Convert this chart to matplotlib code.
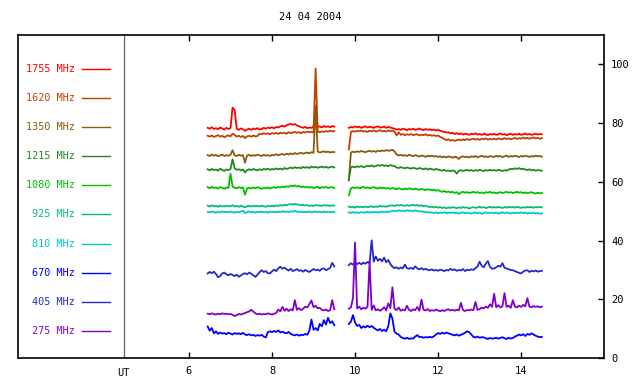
import numpy as np
import matplotlib
matplotlib.use("Agg")
import matplotlib.pyplot as plt

plt.rcParams['font.family'] = ['DejaVu Sans Mono']

title = "24 04 2004"
freqs = ['1755 MHz', '1620 MHz', '1350 MHz', '1215 MHz', '1080 MHz',
         '925 MHz', '810 MHz', '670 MHz', '405 MHz', '275 MHz']
colors = ['#ff0000', '#c44000', '#8c5a0a', '#228822', '#00c000',
          '#00c070', '#00c8c8', '#0000ff', '#2828c8', '#8000c8']

# sample times (UT hours), two observing runs
t1 = np.round(np.arange(6.45, 9.501, 0.05), 2)
t2 = np.round(np.arange(9.85, 14.501, 0.05), 2)

# flux values, first run
f1755_a = [78.4, 78.1, 78.6, 78.0, 78.3, 77.9, 78.5, 78.2, 77.8, 78.4,
           78.0, 78.3, 85.3, 84.4, 78.1, 77.7, 78.2, 77.9, 77.4, 77.8,
           78.1, 77.7, 78.2, 77.9, 78.3, 77.8, 78.0, 78.4, 78.1, 78.5,
           78.3, 78.6, 78.2, 78.7, 78.5, 78.9, 79.1, 78.8, 79.3, 79.5,
           79.8, 79.4, 79.7, 79.2, 79.0, 78.6, 78.4, 78.7, 78.3, 78.5,
           78.4, 78.8, 84.0, 78.6, 78.9, 78.5, 79.0, 78.7, 78.9, 78.6,
           79.0, 78.8]
f1620_a = [75.7, 75.4, 75.8, 75.3, 75.6, 75.9, 75.4, 75.7, 75.2, 75.6,
           75.8, 75.5, 76.4, 76.0, 75.4, 75.7, 75.3, 75.6, 74.9, 75.5,
           75.7, 75.4, 75.8, 75.5, 75.6, 76.4, 76.2, 76.6, 76.3, 76.5,
           76.2, 76.6, 76.4, 76.7, 76.3, 76.8, 76.5, 76.7, 76.4, 76.9,
           76.6, 76.8, 77.0, 76.7, 76.9, 76.6, 77.0, 76.8, 77.1, 76.9,
           77.0, 76.8, 98.6, 77.1, 76.9, 77.2, 77.0, 77.3, 77.1, 77.4,
           77.2, 77.3]
f1350_a = [69.1, 68.8, 69.3, 68.9, 69.2, 68.7, 69.0, 69.3, 68.8, 69.1,
           68.9, 69.2, 70.8, 69.0, 68.8, 69.2, 68.9, 69.1, 66.5, 69.0,
           69.2, 68.8, 69.1, 68.9, 69.3, 69.0, 68.8, 69.2, 68.9, 69.1,
           68.8, 69.2, 69.0, 69.4, 69.1, 69.3, 69.5, 69.2, 69.6, 69.3,
           69.7, 69.4, 69.8, 69.5, 69.7, 69.9, 69.6, 69.8, 70.0, 69.7,
           70.1, 69.9, 86.0, 70.3, 70.0, 70.2, 70.4, 70.1, 70.3, 70.0,
           70.2, 70.1]
f1215_a = [64.3, 63.9, 64.4, 64.0, 64.2, 63.8, 64.5, 64.1, 63.7, 64.2,
           64.0, 64.4, 67.7, 64.6, 64.1, 64.3, 63.9, 64.2, 63.2, 64.0,
           64.3, 64.0, 64.4, 64.1, 63.9, 64.3, 64.0, 64.4, 64.2, 64.5,
           64.1, 64.4, 64.2, 64.6, 64.3, 64.5, 64.2, 64.7, 64.4, 64.6,
           64.9, 64.6, 65.0, 64.7, 64.9, 64.6, 65.1, 64.8, 65.0, 64.7,
           65.2, 64.9, 65.1, 64.8, 65.0, 65.2, 64.9, 65.1, 64.8, 65.0,
           65.2, 64.9]
f1080_a = [58.2, 57.8, 58.3, 57.9, 58.1, 57.7, 58.2, 58.0, 57.6, 58.1,
           57.9, 62.8, 58.4, 58.0, 57.8, 58.2, 57.9, 58.1, 55.6, 57.8,
           58.0, 57.7, 58.1, 57.8, 58.2, 57.9, 57.6, 58.0, 57.8, 58.1,
           57.7, 58.0, 58.2, 57.9, 58.3, 58.1, 58.4, 58.2, 58.5, 58.3,
           58.7, 58.5, 58.8, 58.4, 58.6, 58.2, 58.4, 58.1, 58.3, 58.0,
           58.2, 57.9, 58.1, 58.3, 57.8, 58.2, 58.0, 58.3, 57.9, 58.1,
           58.2, 57.9]
f925_a = [51.9, 51.6, 52.0, 51.7, 51.8, 51.5, 51.9, 51.7, 51.6, 51.9,
          51.7, 51.8, 52.0, 51.6, 51.8, 51.5, 51.9, 51.6, 51.3, 51.7,
          51.8, 51.6, 51.9, 51.7, 51.8, 51.6, 51.9, 51.7, 51.5, 51.8,
          51.7, 51.9, 51.6, 52.0, 51.8, 52.1, 51.9, 52.2, 52.0, 52.3,
          52.4, 52.2, 52.5, 52.3, 52.2, 52.0, 52.2, 51.9, 52.1, 51.8,
          52.0, 51.8, 52.1, 51.9, 52.0, 51.8, 52.1, 51.9, 52.0, 51.8,
          52.0, 51.9]
f810_a = [49.8, 49.6, 49.9, 49.7, 49.5, 49.8, 49.6, 49.9, 49.7, 49.8,
          49.6, 49.9, 49.7, 49.5, 49.8, 49.6, 49.9, 50.2, 49.4, 49.7,
          49.9, 49.6, 49.8, 49.5, 49.8, 49.7, 49.9, 49.6, 49.8, 49.5,
          49.9, 49.7, 49.8, 49.6, 49.9, 49.7, 50.0, 49.8, 49.9, 49.7,
          50.0, 49.8, 50.1, 49.9, 49.7, 49.9, 49.6, 49.8, 49.7, 49.9,
          49.6, 49.8, 49.9, 49.7, 49.8, 49.6, 49.9, 49.7, 49.8, 49.6,
          49.8, 49.7]
f670_a = [10.7, 9.3, 10.2, 8.4, 9.1, 8.2, 8.7, 8.3, 8.5, 8.1,
          8.6, 8.3, 8.0, 8.5, 8.2, 8.4, 8.1, 8.6, 8.0, 7.8,
          8.1, 7.7, 7.9, 7.5, 7.8, 7.6, 7.9, 7.3, 7.0, 8.8,
          9.1, 8.8, 9.2, 8.9, 9.4, 8.7, 9.0, 8.6, 8.4, 8.9,
          8.2, 7.9, 7.7, 8.0, 7.6, 7.9, 7.8, 8.2, 7.9, 9.3,
          13.1, 9.6, 10.2, 9.4, 11.6, 10.8, 12.9, 11.4, 13.7, 11.9,
          12.5, 11.2]
f405_a = [28.8, 29.3, 28.9, 29.4, 28.6, 27.5, 27.9, 28.8, 29.1, 28.5,
          28.2, 28.6, 28.3, 27.9, 28.4, 27.7, 28.1, 28.6, 28.9, 28.5,
          29.1, 28.7, 28.2, 27.6, 28.4, 29.2, 29.9, 29.3, 29.6, 28.9,
          28.8, 29.5, 30.1, 29.6, 30.5, 31.1, 30.4, 30.8, 30.2, 29.8,
          30.4, 29.6, 29.9, 30.3, 29.7, 29.9, 29.4, 30.0, 29.6, 29.3,
          29.8, 30.3, 29.9, 30.1, 29.7, 30.4, 30.5, 29.9, 30.3, 30.7,
          32.4, 31.2]
f275_a = [15.1, 14.9, 15.2, 15.0, 14.8, 15.1, 14.9, 15.2, 15.0, 15.1,
          14.9, 15.0, 14.7, 14.3, 14.6, 15.0, 14.8, 15.1, 15.3, 15.6,
          15.9, 16.4, 15.8, 15.2, 14.9, 15.1, 14.8, 15.0, 14.9, 15.2,
          15.0, 14.8, 15.1, 15.3, 16.5, 15.9, 17.4, 16.1, 16.8, 16.0,
          16.6, 16.2, 19.7, 16.4, 17.0, 16.3, 16.8, 17.5, 17.2, 18.4,
          19.6, 17.3, 17.8, 16.9, 17.1, 16.4, 16.2, 16.5, 16.0, 16.3,
          19.7, 16.6]

# second run
f1755_b = [78.4, 78.7, 78.5, 78.9, 78.6, 78.8, 78.4, 78.7, 78.9, 78.5,
           78.8, 78.6, 78.4, 78.7, 78.9, 78.5, 78.6, 78.8, 78.4, 78.7,
           78.5, 78.3, 78.1, 77.8, 78.0, 77.7, 78.1, 77.9, 77.6, 78.0,
           77.8, 78.1, 77.7, 77.9, 78.2, 77.8, 77.6, 78.0, 77.7, 77.9,
           77.6, 77.8, 77.5, 77.7, 77.4, 77.2, 77.0, 76.8, 76.9, 76.5,
           76.7, 76.3, 76.6, 76.2, 76.5, 76.1, 76.4, 76.3, 76.0, 76.4,
           76.2, 76.5, 76.1, 76.3, 76.0, 76.4, 76.2, 75.9, 76.3, 76.1,
           76.4, 76.0, 76.2, 76.5, 76.1, 76.3, 75.9, 76.2, 76.4, 76.0,
           76.3, 76.1, 76.4, 76.0, 76.2, 76.5, 76.1, 76.3, 76.0, 76.2,
           76.4, 76.1, 76.3, 76.2]
f1620_b = [71.0, 77.0, 77.3, 77.1, 77.4, 77.2, 77.5, 77.1, 77.3, 77.0,
           77.4, 77.2, 77.5, 77.1, 77.3, 77.6, 77.2, 77.4, 77.1, 77.5,
           77.3, 77.4, 77.2, 75.8, 76.9, 76.0, 76.3, 75.9, 76.2, 76.0,
           76.3, 75.9, 76.1, 76.2, 75.8, 76.1, 75.9, 76.2, 75.8, 76.0,
           75.7, 75.9, 75.6, 75.8, 75.3, 75.0, 74.6, 74.2, 74.5, 74.0,
           74.3, 73.9, 74.2, 74.4, 74.1, 74.5, 74.2, 74.6, 74.3, 74.5,
           74.7, 74.4, 74.6, 74.3, 74.7, 74.5, 74.8, 74.4, 74.6, 74.5,
           74.7, 74.4, 74.8, 74.6, 74.5, 74.9, 74.6, 74.8, 74.5, 74.7,
           75.0, 74.6, 74.9, 74.7, 75.1, 74.8, 75.0, 74.7, 74.9, 75.1,
           74.8, 75.0, 74.7, 74.9]
f1350_b = [60.5, 70.0, 70.3, 70.1, 70.4, 70.2, 70.5, 70.3, 70.1, 70.4,
           70.6, 70.3, 70.5, 70.2, 70.6, 70.4, 70.7, 70.5, 70.8, 70.6,
           70.7, 70.9, 70.4, 69.3, 69.0, 69.2, 68.9, 69.1, 68.8, 69.2,
           69.0, 68.7, 69.1, 68.9, 68.6, 69.0, 68.8, 68.5, 68.9, 68.7,
           68.9, 68.6, 68.8, 68.5, 68.7, 68.4, 68.6, 68.3, 68.7, 68.5,
           68.2, 68.6, 68.4, 67.8, 68.5, 68.7, 68.4, 68.6, 68.3, 68.7,
           68.5, 68.8, 68.4, 68.6, 68.9, 68.5, 68.7, 68.4, 68.8, 68.6,
           68.5, 68.9, 68.6, 68.8, 68.4, 68.7, 68.9, 68.5, 68.8, 68.6,
           68.9, 68.7, 68.5, 68.8, 68.6, 68.9, 68.7, 68.5, 68.8, 68.6,
           68.9, 68.7, 68.8, 68.6]
f1215_b = [60.8, 65.0, 65.2, 64.9, 65.3, 65.1, 65.4, 65.0, 65.2, 65.5,
           65.3, 65.6, 65.2, 65.4, 65.7, 65.5, 65.8, 65.4, 65.6, 65.3,
           65.7, 65.5, 65.4, 64.9, 64.7, 65.0, 64.8, 64.6, 64.9, 64.7,
           64.5, 64.8, 64.6, 64.4, 64.7, 64.5, 64.3, 64.6, 64.2, 64.5,
           64.3, 64.1, 64.4, 64.2, 64.0, 63.8, 64.1, 63.7, 63.9, 63.6,
           63.9, 63.7, 62.8, 63.8, 64.0, 63.7, 63.9, 64.1, 63.8, 64.0,
           63.7, 64.0, 63.8, 64.1, 63.9, 63.7, 64.0, 63.8, 64.1, 63.9,
           64.0, 63.8, 64.1, 63.9, 63.7, 64.0, 63.8, 64.2, 64.4, 64.3,
           64.6, 64.4, 64.7, 64.3, 64.5, 64.2, 64.0, 64.3, 63.9, 64.1,
           63.8, 64.0, 63.9, 63.8]
f1080_b = [55.4, 57.8, 58.1, 57.9, 58.2, 57.8, 58.0, 58.3, 57.9, 58.1,
           57.8, 58.0, 58.2, 57.9, 57.7, 58.1, 57.8, 58.0, 57.7, 57.9,
           57.6, 57.9, 57.7, 57.5, 57.8, 57.6, 57.4, 57.7, 57.5, 57.8,
           57.6, 57.4, 57.7, 57.5, 57.3, 57.6, 57.4, 57.2, 57.5, 57.3,
           57.1, 57.4, 57.0, 57.2, 56.8, 56.6, 56.9, 56.5, 56.7, 56.4,
           56.6, 56.2, 56.5, 55.8, 56.4, 56.6, 56.3, 56.5, 56.2, 56.4,
           56.6, 56.3, 56.5, 56.2, 56.4, 56.1, 56.5, 56.3, 56.6, 56.2,
           56.4, 56.1, 56.3, 56.5, 56.2, 56.4, 56.6, 56.3, 56.5, 56.2,
           56.4, 56.6, 56.3, 56.5, 56.2, 56.4, 56.1, 56.3, 56.5, 56.2,
           56.0, 56.3, 56.1, 56.2]
f925_b = [51.6, 51.3, 51.5, 51.2, 51.6, 51.4, 51.5, 51.3, 51.6, 51.4,
          51.5, 51.7, 51.4, 51.6, 51.5, 51.8, 51.6, 51.7, 51.5, 51.8,
          51.9, 52.0, 51.8, 52.1, 51.9, 52.1, 52.0, 51.8, 52.1, 51.9,
          52.0, 52.2, 51.9, 52.1, 51.8, 52.0, 51.7, 51.9, 51.6, 51.4,
          51.5, 51.3, 51.5, 51.2, 51.4, 51.1, 51.3, 51.0, 51.3, 51.1,
          51.4, 51.2, 51.0, 51.3, 51.1, 51.4, 51.2, 51.3, 50.9, 51.2,
          51.4, 51.1, 51.3, 51.5, 51.2, 51.4, 51.1, 51.3, 51.5, 51.2,
          51.4, 51.2, 51.5, 51.3, 51.1, 51.4, 51.2, 51.5, 51.3, 51.4,
          51.2, 51.5, 51.3, 51.1, 51.4, 51.2, 51.5, 51.3, 51.4, 51.2,
          51.4, 51.3, 51.5, 51.3]
f810_b = [49.6, 49.4, 49.7, 49.5, 49.6, 49.4, 49.7, 49.5, 49.6, 49.8,
          49.5, 49.7, 49.6, 49.8, 49.5, 49.7, 49.9, 49.6, 49.8, 49.7,
          49.9, 50.1, 50.2, 50.0, 50.3, 50.1, 50.2, 50.0, 50.3, 50.1,
          50.2, 50.0, 50.3, 50.1, 49.9, 50.0, 49.8, 49.6, 49.7, 49.5,
          49.6, 49.4, 49.6, 49.3, 49.5, 49.4, 49.6, 49.3, 49.5, 49.4,
          49.6, 49.3, 49.5, 49.2, 49.4, 49.6, 49.3, 49.5, 49.4, 49.2,
          49.4, 49.6, 49.3, 49.5, 49.1, 49.4, 49.6, 49.3, 49.5, 49.4,
          49.3, 49.5, 49.2, 49.4, 49.6, 49.3, 49.5, 49.4, 49.2, 49.5,
          49.3, 49.5, 49.4, 49.6, 49.3, 49.5, 49.2, 49.4, 49.3, 49.5,
          49.2, 49.4, 49.1, 49.3]
f670_b = [11.6, 12.4, 14.6, 12.1, 10.9, 11.3, 10.2, 10.8, 10.4, 11.0,
          10.5, 10.9, 10.3, 9.8, 9.4, 9.9, 9.2, 9.6, 9.1, 10.8,
          15.2, 13.4, 9.0, 8.3, 8.0, 7.2, 6.8, 6.6, 6.9, 6.5,
          6.7, 6.6, 7.3, 7.8, 7.1, 7.2, 6.9, 7.1, 7.0, 7.2,
          7.0, 7.4, 8.0, 8.5, 8.2, 8.6, 8.3, 8.7, 8.4, 8.2,
          7.9, 7.7, 8.0, 7.6, 7.9, 8.2, 8.6, 9.1, 8.8, 8.0,
          7.2, 7.0, 7.3, 6.9, 7.1, 7.0, 6.7, 6.5, 6.8, 6.6,
          6.7, 6.9, 6.6, 6.8, 7.1, 6.7, 6.5, 6.9, 6.6, 6.8,
          7.3, 7.6, 8.0, 7.7, 8.1, 7.5, 8.2, 7.9, 8.4, 8.0,
          7.6, 7.3, 7.1, 7.2]
f405_b = [31.6, 32.3, 31.8, 32.6, 32.0, 32.4, 31.9, 32.5, 32.1, 32.7,
          32.3, 40.1, 32.8, 34.6, 33.1, 33.8, 32.9, 34.2, 32.6, 33.4,
          32.0, 31.1, 30.6, 30.9, 30.4, 30.8, 30.5, 31.8, 30.6, 30.4,
          30.7, 30.3, 31.2, 30.5, 30.2, 30.6, 30.1, 30.4, 30.0, 29.9,
          30.2, 29.8, 30.0, 29.7, 30.1, 29.9, 29.6, 30.0, 29.8, 30.4,
          29.9, 30.2, 29.7, 30.0, 29.8, 30.3, 29.6, 30.1, 29.9, 30.2,
          30.0, 30.6, 31.2, 32.8, 31.4, 30.9, 32.2, 33.0, 31.0, 30.4,
          30.5, 30.9, 31.4, 31.1, 32.3, 30.7, 30.5, 30.2, 30.0, 29.9,
          29.6, 29.3, 29.0, 28.8, 29.4, 29.8, 29.9, 29.3, 29.7, 29.5,
          29.8, 29.4, 29.6, 29.7]
f275_b = [16.8, 17.2, 20.4, 39.3, 16.9, 17.5, 16.6, 17.1, 16.8, 17.4,
          33.0, 16.4, 17.9, 16.2, 16.6, 16.1, 16.5, 17.3, 16.2, 18.6,
          17.0, 24.1, 16.8, 16.3, 17.2, 16.1, 16.5, 16.2, 17.8, 16.4,
          16.0, 16.6, 16.3, 17.4, 16.1, 19.9, 16.4, 16.2, 16.7, 16.0,
          16.3, 16.1, 16.5, 16.2, 15.9, 16.3, 16.0, 16.4, 16.6, 16.2,
          16.4, 16.1, 16.5, 16.2, 18.8, 16.3, 16.0, 16.4, 16.2, 16.5,
          16.3, 19.1, 16.4, 16.6, 17.2, 16.9, 17.5, 17.1, 18.3, 17.4,
          21.9, 17.3, 18.0, 17.2, 17.6, 22.1, 17.4, 17.8, 17.1, 19.7,
          17.5, 17.2, 17.8, 17.4, 18.1, 17.6, 20.4, 17.5, 17.3, 17.7,
          17.4, 17.6, 17.3, 17.5]

run_a = [f1755_a, f1620_a, f1350_a, f1215_a, f1080_a,
         f925_a, f810_a, f670_a, f405_a, f275_a]
run_b = [f1755_b, f1620_b, f1350_b, f1215_b, f1080_b,
         f925_b, f810_b, f670_b, f405_b, f275_b]

fig = plt.figure(figsize=(6.4, 3.84), dpi=100)
ax = fig.add_axes([0.028, 0.0677, 0.916, 0.841])

for ya, yb, c in zip(run_a, run_b, colors):
    ax.plot(t1, ya, color=c, lw=1.3)
    ax.plot(t2, yb, color=c, lw=1.3)

ax.set_xlim(1.88, 16.0)
ax.set_ylim(0, 110)

# separator between legend block and data area
ax.axvline(4.434, color='#707070', lw=1.0)

# legend block on the left
leg_y = np.linspace(98.6, 9.2, len(freqs))
for name, c, y in zip(freqs, colors, leg_y):
    ax.text(0.097, y, name, color=c, fontsize=7.3, ha='right', va='center',
            transform=ax.get_yaxis_transform())
    ax.plot([3.42, 4.10], [y, y], color=c, lw=1.0)

ax.set_xticks([6, 8, 10, 12, 14])
ax.set_xticklabels(['6', '8', '10', '12', '14'])
ax.set_yticks([0, 20, 40, 60, 80, 100])
ax.yaxis.tick_right()
ax.tick_params(axis='x', direction='in', length=4, width=1, top=True,
               labelsize=7.5, pad=6)
ax.tick_params(axis='y', direction='in', length=4, width=1, left=False,
               right=True, labelsize=7.5, pad=5)
ax.text(4.434, -0.03, 'UT', fontsize=7.5, ha='center', va='top',
        transform=ax.get_xaxis_transform())

for s in ax.spines.values():
    s.set_linewidth(1.2)

fig.text(0.485, 0.955, title, fontsize=7.5, ha='center', va='center')

fig.savefig('out.png', dpi=100)
